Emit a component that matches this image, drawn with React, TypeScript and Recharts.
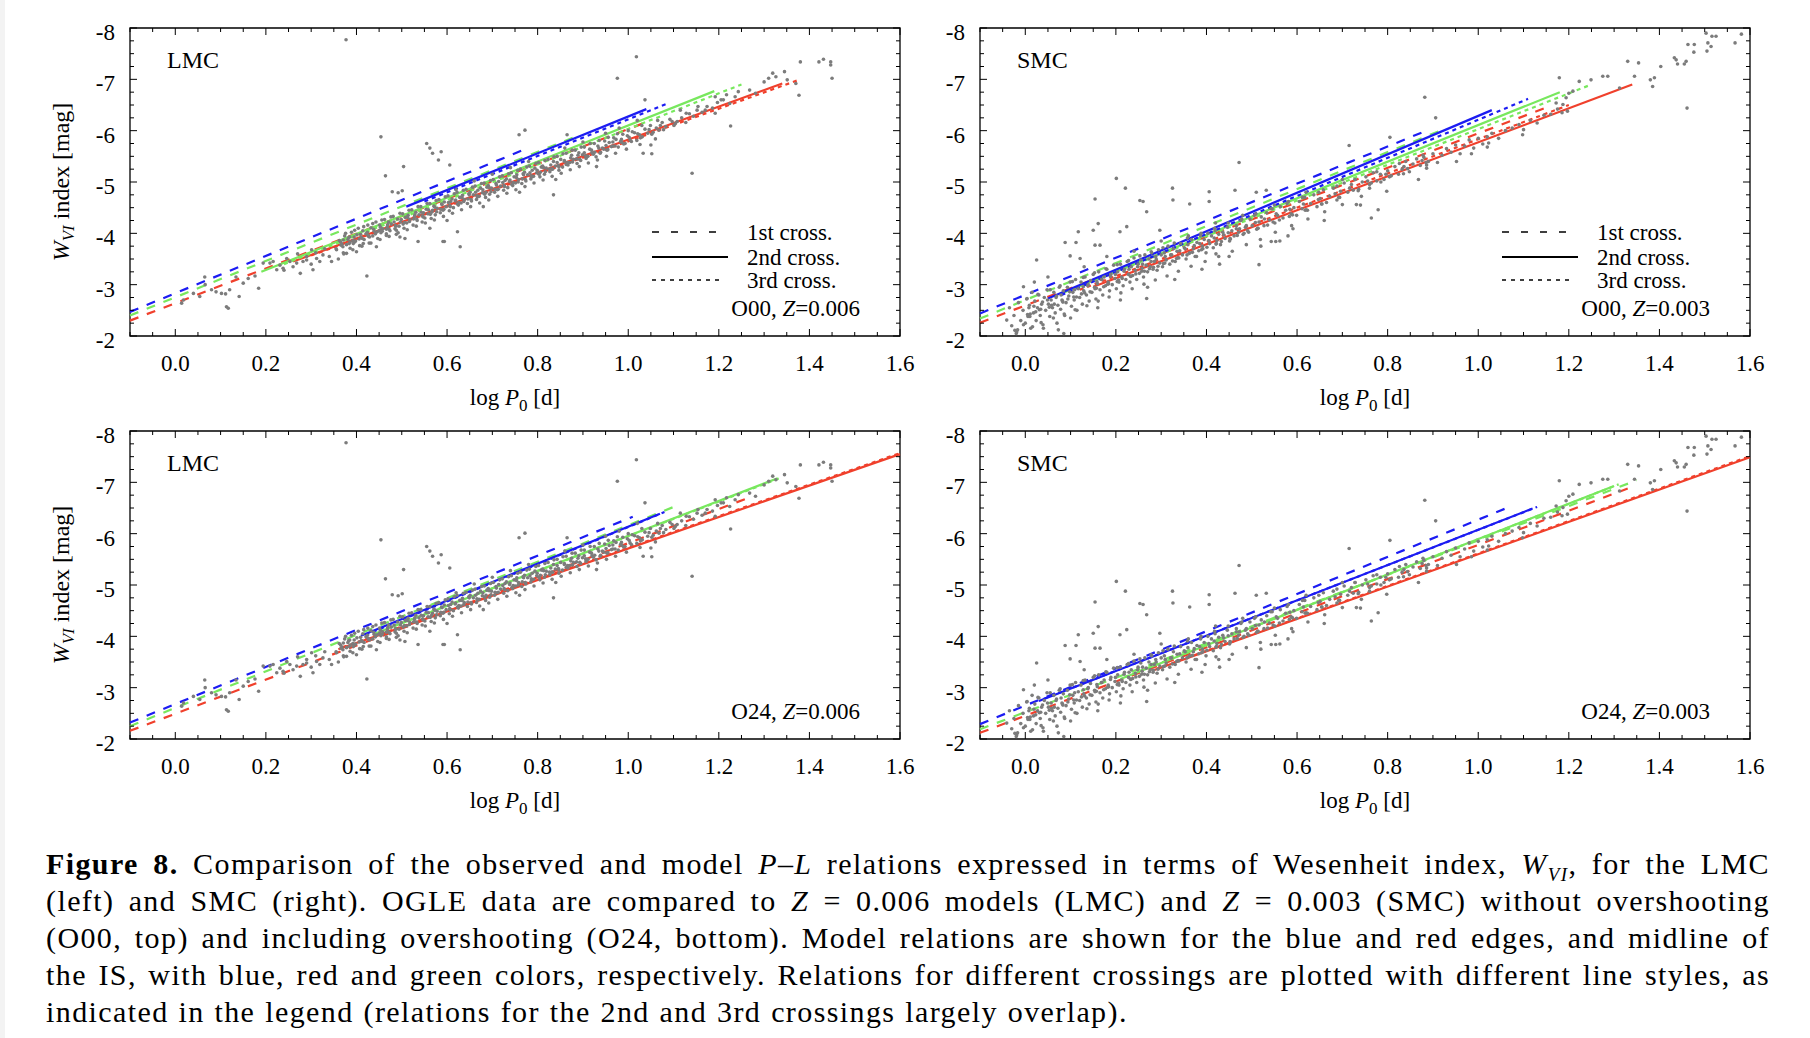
import React from 'react';
import { ScatterChart, Scatter, XAxis, YAxis, ReferenceLine, ReferenceArea } from 'recharts';

type Star = [number, number]; // [log P0, W_VI]
type Seg = [number, number, number, number]; // [logP start, W start, logP end, W end]

// OGLE fundamental-mode Cepheids, LMC
const lmcStars: Star[] = [
  [0.014, -2.64], [0.018, -2.70], [0.040, -2.83], [0.054, -2.77], [0.065, -3.15], [0.066, -3.00], [0.080, -2.90],
  [0.090, -2.86], [0.102, -2.83], [0.113, -2.57], [0.117, -2.54], [0.111, -2.82], [0.120, -2.90], [0.134, -3.15],
  [0.141, -2.77], [0.150, -3.03], [0.161, -3.12], [0.176, -3.17], [0.184, -2.93], [0.194, -3.42], [0.209, -3.42],
  [0.216, -3.45], [0.224, -3.29], [0.231, -3.38], [0.238, -3.32], [0.246, -3.51], [0.253, -3.45], [0.260, -3.35],
  [0.268, -3.42], [0.276, -3.22], [0.282, -3.45], [0.290, -3.55], [0.301, -3.68], [0.304, -3.29], [0.312, -3.51],
  [0.319, -3.45], [0.326, -3.58], [0.345, -3.45], [0.356, -3.68], [0.371, -3.87], [0.378, -3.61], [0.385, -3.93],
  [0.393, -3.80], [0.400, -3.64], [0.415, -3.80], [0.429, -3.93], [0.423, -3.17], [0.444, -3.74], [0.451, -4.06],
  [0.466, -3.99], [0.488, -4.06], [0.496, -3.93], [0.507, -3.90], [0.536, -3.84], [0.562, -4.10], [0.591, -3.84],
  [0.240, -3.28], [0.270, -3.60], [0.300, -3.40], [0.330, -3.70], [0.340, -3.55], [0.310, -3.62], [0.290, -3.48],
  [0.360, -3.50],
  [0.355, -3.70], [0.362, -3.86], [0.368, -3.79], [0.371, -3.62], [0.374, -3.95], [0.378, -3.78], [0.383, -3.92],
  [0.386, -3.71], [0.389, -4.02], [0.392, -3.86], [0.396, -3.83], [0.401, -3.97], [0.404, -4.10], [0.407, -3.76],
  [0.411, -3.92], [0.414, -4.05], [0.417, -3.88], [0.421, -3.99], [0.425, -4.16], [0.428, -3.81], [0.432, -4.11],
  [0.436, -3.95], [0.439, -4.04], [0.443, -4.22], [0.447, -3.90], [0.451, -4.16], [0.454, -4.01], [0.458, -4.09],
  [0.462, -4.27], [0.466, -3.96], [0.468, -4.13], [0.471, -4.22], [0.474, -4.05], [0.477, -4.18], [0.481, -4.33],
  [0.485, -4.09], [0.488, -3.98], [0.491, -4.28], [0.494, -4.14], [0.497, -4.22], [0.502, -4.38], [0.505, -4.10],
  [0.508, -4.31], [0.511, -4.20], [0.514, -4.35], [0.518, -4.27], [0.522, -4.46], [0.525, -4.16], [0.528, -4.33],
  [0.531, -4.41], [0.534, -4.25], [0.538, -4.36], [0.542, -4.52], [0.545, -4.22], [0.548, -4.40], [0.551, -4.30],
  [0.554, -4.47], [0.558, -4.38], [0.562, -4.58], [0.565, -4.29], [0.568, -4.45], [0.571, -4.53], [0.574, -4.36],
  [0.578, -4.49], [0.582, -4.66], [0.585, -4.40], [0.588, -4.57], [0.591, -4.45], [0.594, -4.61], [0.598, -4.52],
  [0.602, -4.73], [0.605, -4.44], [0.608, -4.62], [0.611, -4.67], [0.614, -4.50], [0.618, -4.63], [0.622, -4.80],
  [0.625, -4.55], [0.628, -4.70], [0.631, -4.59], [0.634, -4.74], [0.638, -4.66], [0.642, -4.86], [0.645, -4.58],
  [0.648, -4.77], [0.651, -4.80], [0.654, -4.63], [0.658, -4.75], [0.662, -4.92], [0.665, -4.66], [0.668, -4.84],
  [0.671, -4.72], [0.674, -4.88], [0.678, -4.79], [0.682, -4.98], [0.685, -4.70], [0.688, -4.90], [0.691, -4.93],
  [0.694, -4.76], [0.698, -4.88], [0.702, -5.05], [0.705, -4.80], [0.708, -4.97], [0.711, -4.85], [0.714, -5.01],
  [0.718, -4.92], [0.722, -5.12], [0.725, -4.84], [0.728, -5.03], [0.731, -5.06], [0.734, -4.89], [0.738, -5.01],
  [0.742, -5.18], [0.745, -4.93], [0.748, -5.10], [0.751, -4.98], [0.754, -5.14], [0.758, -5.05], [0.762, -5.25],
  [0.765, -4.97], [0.768, -5.16], [0.771, -5.19], [0.774, -5.02], [0.778, -5.14], [0.782, -5.31], [0.785, -5.06],
  [0.788, -5.23], [0.791, -5.11], [0.794, -5.27], [0.798, -5.18], [0.802, -5.38], [0.805, -5.10], [0.808, -5.29],
  [0.811, -5.31], [0.815, -5.15], [0.819, -5.27], [0.823, -5.44], [0.827, -5.20], [0.831, -5.25], [0.835, -5.40],
  [0.839, -5.31], [0.843, -5.50], [0.847, -5.23], [0.851, -5.44], [0.855, -5.29], [0.859, -5.40], [0.863, -5.56],
  [0.867, -5.33], [0.871, -5.38], [0.875, -5.52], [0.879, -5.44], [0.883, -5.62], [0.887, -5.36], [0.891, -5.57],
  [0.895, -5.42], [0.899, -5.53], [0.903, -5.68], [0.907, -5.46], [0.911, -5.50], [0.915, -5.64], [0.920, -5.57],
  [0.925, -5.75], [0.929, -5.49], [0.933, -5.70], [0.938, -5.56], [0.943, -5.66], [0.948, -5.80], [0.953, -5.62],
  [0.958, -5.77], [0.963, -5.69], [0.968, -5.86], [0.973, -5.83], [0.978, -5.68], [0.983, -5.79], [0.988, -5.93],
  [0.993, -5.75], [0.998, -5.90], [1.004, -5.82], [1.009, -5.98], [1.014, -5.96], [1.019, -5.81], [1.025, -5.92],
  [1.031, -5.88], [1.037, -6.03], [1.043, -5.95], [1.049, -6.10], [1.055, -5.97], [1.062, -6.05], [1.068, -6.01],
  [1.075, -6.16], [1.083, -6.08], [1.092, -6.22], [1.101, -6.10], [1.108, -6.18], [1.118, -6.25], [1.127, -6.16],
  [1.135, -6.33], [1.144, -6.28], [1.152, -6.40], [1.163, -6.36], [1.174, -6.47], [1.186, -6.44], [1.197, -6.55],
  [1.210, -6.60], [1.224, -6.53], [1.236, -6.66],
  [0.365, -3.83], [0.370, -3.74], [0.381, -3.88], [0.384, -3.80], [0.395, -3.93], [0.398, -3.85], [0.409, -3.98],
  [0.413, -3.90], [0.424, -4.02], [0.427, -3.94], [0.438, -4.08], [0.442, -3.99], [0.453, -4.12], [0.457, -4.04],
  [0.469, -4.17], [0.472, -4.08], [0.483, -4.22], [0.487, -4.14], [0.499, -4.27], [0.503, -4.18], [0.513, -4.31],
  [0.517, -4.23], [0.529, -4.36], [0.533, -4.28], [0.543, -4.41], [0.547, -4.32], [0.559, -4.46], [0.563, -4.37],
  [0.573, -4.51], [0.577, -4.42], [0.589, -4.56], [0.593, -4.47], [0.603, -4.60], [0.607, -4.52], [0.619, -4.65],
  [0.623, -4.57], [0.633, -4.70], [0.637, -4.62], [0.649, -4.75], [0.653, -4.66], [0.663, -4.80], [0.667, -4.71],
  [0.679, -4.85], [0.683, -4.76], [0.693, -4.89], [0.697, -4.81], [0.709, -4.94], [0.713, -4.86], [0.723, -4.99],
  [0.727, -4.91], [0.739, -5.04], [0.743, -4.95], [0.753, -5.09], [0.757, -5.00], [0.769, -5.14], [0.773, -5.05],
  [0.783, -5.18], [0.787, -5.10], [0.799, -5.23], [0.803, -5.15], [0.813, -5.28], [0.817, -5.20], [0.829, -5.33],
  [0.833, -5.25], [0.843, -5.38], [0.847, -5.29], [0.859, -5.42], [0.863, -5.34], [0.873, -5.47], [0.877, -5.39],
  [0.889, -5.52], [0.893, -5.44], [0.903, -5.57], [0.907, -5.49], [0.919, -5.62], [0.923, -5.54], [0.935, -5.66],
  [0.939, -5.58], [0.951, -5.71], [0.955, -5.63], [0.966, -5.78], [0.971, -5.70], [0.985, -5.83], [0.990, -5.74],
  [1.002, -5.87], [1.007, -5.79], [1.021, -5.94], [1.027, -5.86], [1.046, -6.02], [1.052, -5.93], [1.071, -6.10],
  [1.078, -6.02], [1.097, -6.18], [1.104, -6.14],
  [0.372, -3.60], [0.376, -4.00], [0.392, -3.68], [0.396, -4.06], [0.412, -3.75], [0.416, -4.13], [0.432, -3.81],
  [0.436, -4.19], [0.452, -3.88], [0.456, -4.26], [0.472, -3.94], [0.476, -4.32], [0.492, -4.01], [0.496, -4.39],
  [0.512, -4.07], [0.516, -4.45], [0.532, -4.14], [0.536, -4.52], [0.552, -4.20], [0.556, -4.58], [0.572, -4.26],
  [0.576, -4.64], [0.592, -4.33], [0.596, -4.71], [0.612, -4.39], [0.616, -4.77], [0.632, -4.46], [0.636, -4.84],
  [0.652, -4.52], [0.656, -4.90], [0.672, -4.59], [0.676, -4.97], [0.692, -4.65], [0.696, -5.03], [0.712, -4.72],
  [0.716, -5.10], [0.732, -4.78], [0.736, -5.16], [0.752, -4.85], [0.756, -5.23], [0.772, -4.91], [0.776, -5.29],
  [0.792, -4.98], [0.796, -5.36], [0.812, -5.04], [0.816, -5.42], [0.832, -5.11], [0.836, -5.49], [0.852, -5.17],
  [0.856, -5.55], [0.872, -5.24], [0.876, -5.62], [0.892, -5.30], [0.896, -5.68], [0.912, -5.37], [0.916, -5.75],
  [0.932, -5.43], [0.936, -5.81], [0.952, -5.50], [0.956, -5.87], [0.972, -5.56], [0.976, -5.94], [0.996, -5.64],
  [1.000, -6.00], [1.026, -5.73], [1.030, -6.10], [1.060, -5.84], [1.065, -6.20],
  [0.366, -3.77], [0.386, -3.83], [0.406, -3.89], [0.426, -3.96], [0.446, -4.03], [0.466, -4.08], [0.486, -4.15],
  [0.506, -4.21], [0.526, -4.28], [0.546, -4.34], [0.566, -4.41], [0.586, -4.47], [0.606, -4.54], [0.626, -4.60],
  [0.646, -4.67], [0.666, -4.73], [0.686, -4.80], [0.706, -4.86], [0.726, -4.93], [0.746, -4.99], [0.766, -5.06],
  [0.786, -5.12], [0.806, -5.19], [0.826, -5.25], [0.846, -5.32], [0.866, -5.38], [0.886, -5.45], [0.906, -5.51],
  [0.926, -5.58], [0.946, -5.64], [0.966, -5.70], [0.986, -5.77],
  [0.620, -4.85], [0.700, -5.15], [0.780, -5.40], [0.860, -5.66], [0.950, -5.95], [1.020, -6.20], [0.660, -5.02],
  [0.740, -5.28], [0.900, -5.78], [0.980, -6.05], [0.600, -4.25], [0.680, -4.52], [0.760, -4.80], [0.840, -5.05],
  [0.930, -5.30], [1.050, -5.72],
  [0.377, -7.77], [1.018, -7.44], [0.976, -7.02], [1.037, -6.60], [0.772, -6.01], [0.865, -5.92], [0.454, -5.88],
  [0.759, -5.92], [0.555, -5.75], [0.562, -5.66], [0.568, -5.56], [0.587, -5.59], [0.581, -5.43], [0.504, -5.30],
  [0.464, -5.12], [0.606, -5.33], [0.479, -4.81], [0.492, -4.79], [0.501, -4.83], [1.033, -5.56], [1.052, -5.55],
  [1.141, -5.17], [1.226, -6.09], [0.835, -4.75], [0.623, -4.03], [0.594, -3.84], [0.629, -3.74], [1.268, -6.79],
  [1.281, -6.73], [1.319, -7.12], [1.326, -7.05], [1.345, -7.15], [1.351, -6.99], [1.370, -6.92], [1.377, -6.69],
  [1.380, -7.34], [1.421, -7.34], [1.431, -7.39], [1.447, -7.28], [1.447, -7.34], [1.450, -7.02], [1.310, -7.02],
  [1.300, -6.95], [1.192, -6.66], [1.205, -6.60], [1.217, -6.70], [1.243, -6.76], [1.115, -6.40], [1.128, -6.34],
  [1.154, -6.47], [1.192, -6.34], [1.170, -6.40],
];

// OGLE fundamental-mode Cepheids, SMC
const smcStars: Star[] = [
  [-0.035, -2.55], [-0.030, -2.20], [-0.025, -2.40], [-0.020, -2.05], [-0.015, -2.65], [-0.010, -2.30],
  [-0.005, -2.50], [0.000, -2.25], [0.003, -2.72], [0.006, -2.38], [0.009, -2.60], [0.012, -2.15], [0.015, -2.85],
  [0.018, -2.45], [0.021, -2.68], [0.024, -2.30], [0.027, -2.55], [0.030, -2.80], [0.033, -2.40], [0.036, -2.62],
  [0.039, -2.22], [0.042, -2.75], [0.045, -2.50], [0.048, -2.90], [0.051, -2.62], [0.054, -2.38], [0.057, -2.70],
  [0.060, -2.55], [0.063, -2.85], [0.066, -2.45], [0.069, -2.78], [0.072, -2.60], [0.075, -2.95], [0.078, -2.52],
  [0.081, -2.70], [0.084, -2.88], [0.087, -2.40], [0.090, -2.65], [0.093, -2.95], [0.096, -2.78], [0.099, -3.05],
  [0.102, -2.58], [0.105, -2.85], [0.108, -2.70], [0.111, -3.10], [0.114, -2.50], [0.117, -2.92], [0.120, -2.75],
  [0.123, -3.05], [0.126, -2.62], [0.129, -2.88], [0.132, -3.15], [0.135, -2.80], [0.138, -2.98], [0.141, -2.68],
  [0.144, -3.08], [0.147, -2.85], [0.150, -3.20], [0.153, -2.95], [0.156, -2.72], [0.159, -3.02], [0.162, -3.25],
  [0.165, -2.90], [0.168, -3.10], [0.171, -2.80], [0.174, -3.15], [0.177, -2.98], [0.180, -3.30], [0.183, -3.05],
  [0.186, -2.88], [0.189, -3.20], [0.192, -3.00], [0.195, -3.38], [0.198, -3.12], [0.201, -2.92], [0.204, -3.25],
  [0.207, -3.05], [0.210, -3.40], [0.213, -3.15], [0.216, -2.98], [0.219, -3.30], [0.222, -3.10], [0.225, -3.45],
  [0.228, -3.20], [0.231, -3.05], [0.234, -3.35], [0.237, -3.18], [0.240, -3.52], [0.243, -3.28], [0.246, -3.10],
  [0.249, -3.40], [0.252, -3.22], [0.255, -3.48], [0.258, -3.32], [0.261, -3.15], [0.264, -3.58], [0.267, -3.38],
  [0.270, -3.25], [0.273, -3.50], [0.276, -3.35], [0.279, -3.62], [0.282, -3.30], [0.285, -3.45], [0.288, -3.55],
  [0.291, -3.28], [0.294, -3.68], [0.297, -3.42], [0.300, -3.58], [0.303, -3.35], [0.307, -3.62], [0.311, -3.48],
  [0.315, -3.75], [0.319, -3.40], [0.323, -3.58], [0.327, -3.70], [0.331, -3.45], [0.335, -3.65], [0.339, -3.52],
  [0.343, -3.80], [0.347, -3.58], [0.351, -3.72], [0.355, -3.50], [0.359, -3.78], [0.363, -3.62], [0.367, -3.88],
  [0.371, -3.70], [0.375, -3.55], [0.379, -3.82], [0.383, -3.66], [0.387, -3.95], [0.391, -3.75], [0.395, -3.88],
  [0.399, -3.62], [0.403, -4.00], [0.407, -3.80], [0.411, -3.95], [0.415, -3.72], [0.419, -4.05], [0.423, -3.86],
  [0.427, -3.98], [0.431, -3.78], [0.436, -4.02], [0.441, -3.90], [0.446, -4.12], [0.451, -3.85], [0.456, -4.05],
  [0.461, -3.95], [0.466, -4.15], [0.471, -4.02], [0.476, -4.25], [0.481, -3.98], [0.486, -4.12], [0.491, -4.05],
  [0.496, -4.28], [0.501, -4.15], [0.506, -4.35], [0.511, -4.08], [0.516, -4.22], [0.521, -4.32], [0.527, -4.15],
  [0.533, -4.40], [0.539, -4.26], [0.545, -4.48], [0.551, -4.20], [0.557, -4.35], [0.563, -4.52], [0.569, -4.30],
  [0.575, -4.45], [0.581, -4.62], [0.587, -4.38], [0.593, -4.50], [0.599, -4.35], [0.605, -4.62], [0.611, -4.48],
  [0.617, -4.70], [0.623, -4.45], [0.630, -4.58], [0.637, -4.75], [0.644, -4.52], [0.651, -4.68], [0.658, -4.85],
  [0.665, -4.60], [0.672, -4.72], [0.680, -4.88], [0.688, -4.65], [0.696, -4.82], [0.704, -4.98], [0.712, -4.80],
  [0.720, -4.95], [0.728, -5.05], [0.736, -4.86], [0.744, -5.00], [0.752, -5.10], [0.760, -4.95], [0.768, -5.18],
  [0.776, -5.02], [0.784, -5.15], [0.792, -5.05], [0.800, -5.22], [0.808, -5.12], [0.816, -5.30], [0.824, -5.15],
  [0.832, -5.25], [0.840, -5.40], [0.848, -5.20], [0.856, -5.35], [0.864, -5.45], [0.872, -5.32], [0.880, -5.48],
  [0.890, -5.40], [0.900, -5.55], [0.910, -5.38], [0.920, -5.52], [0.930, -5.65], [0.940, -5.58], [0.950, -5.72],
  [0.960, -5.55], [0.970, -5.70], [0.980, -5.82], [0.990, -5.66], [1.000, -5.85], [1.010, -5.74], [1.020, -5.88],
  [1.030, -5.95], [1.045, -5.85], [1.060, -6.00], [1.075, -6.05], [1.090, -6.12], [1.100, -6.02], [1.115, -6.20],
  [1.130, -6.15], [1.145, -6.30], [1.160, -6.32], [1.175, -6.42], [1.185, -6.35],
  [0.005, -2.42], [0.008, -2.55], [0.019, -2.58], [0.023, -2.47], [0.034, -2.52], [0.038, -2.66], [0.049, -2.70],
  [0.053, -2.56], [0.064, -2.62], [0.068, -2.75], [0.079, -2.80], [0.083, -2.66], [0.094, -2.72], [0.098, -2.86],
  [0.109, -2.90], [0.113, -2.76], [0.124, -2.82], [0.128, -2.96], [0.139, -3.00], [0.143, -2.86], [0.154, -2.92],
  [0.158, -3.06], [0.169, -3.10], [0.173, -2.96], [0.184, -3.02], [0.188, -3.16], [0.199, -3.20], [0.203, -3.06],
  [0.214, -3.12], [0.218, -3.26], [0.229, -3.30], [0.233, -3.16], [0.244, -3.21], [0.248, -3.35], [0.259, -3.40],
  [0.263, -3.26], [0.274, -3.31], [0.278, -3.45], [0.289, -3.50], [0.293, -3.36], [0.305, -3.41], [0.309, -3.55],
  [0.321, -3.58], [0.325, -3.46], [0.337, -3.53], [0.341, -3.66], [0.353, -3.70], [0.357, -3.58], [0.369, -3.63],
  [0.373, -3.76], [0.385, -3.80], [0.389, -3.68], [0.401, -3.73], [0.405, -3.86], [0.417, -3.91], [0.421, -3.79],
  [0.433, -3.84], [0.438, -3.97], [0.448, -4.01], [0.453, -3.89], [0.468, -3.96], [0.473, -4.09], [0.488, -4.15],
  [0.493, -4.02], [0.508, -4.21], [0.513, -4.10], [0.528, -4.28], [0.535, -4.16], [0.554, -4.38], [0.561, -4.26],
  [0.584, -4.47], [0.590, -4.36], [0.614, -4.57], [0.620, -4.46], [0.647, -4.66], [0.654, -4.57], [0.684, -4.77],
  [0.692, -4.70], [0.716, -4.88], [0.724, -4.84], [0.756, -5.02], [0.764, -4.98], [0.796, -5.15], [0.804, -5.10],
  [0.836, -5.30], [0.844, -5.26], [0.876, -5.42], [0.885, -5.38],
  [0.004, -2.73], [0.011, -2.43], [0.016, -2.18], [0.028, -2.81], [0.031, -2.51], [0.035, -2.26], [0.055, -2.90],
  [0.058, -2.60], [0.062, -2.35], [0.077, -2.98], [0.082, -2.68], [0.086, -2.43], [0.104, -3.06], [0.107, -2.76],
  [0.110, -2.51], [0.128, -3.14], [0.131, -2.84], [0.136, -2.59], [0.153, -3.23], [0.157, -2.93], [0.161, -2.68],
  [0.178, -3.31], [0.182, -3.01], [0.185, -2.76], [0.203, -3.39], [0.206, -3.09], [0.211, -2.84], [0.228, -3.47],
  [0.232, -3.17], [0.236, -2.92], [0.253, -3.56], [0.257, -3.26], [0.262, -3.01], [0.278, -3.64], [0.283, -3.34],
  [0.287, -3.09], [0.304, -3.72], [0.308, -3.42], [0.313, -3.17], [0.329, -3.81], [0.334, -3.51], [0.338, -3.26],
  [0.358, -3.91], [0.362, -3.61], [0.366, -3.36], [0.388, -4.00], [0.392, -3.70], [0.397, -3.45], [0.418, -4.10],
  [0.422, -3.80], [0.427, -3.55], [0.448, -4.20], [0.452, -3.90], [0.457, -3.65], [0.478, -4.28], [0.483, -4.00],
  [0.488, -3.78], [0.509, -4.38], [0.514, -4.10], [0.519, -3.88], [0.542, -4.48], [0.547, -4.22], [0.552, -4.02],
  [0.578, -4.58], [0.583, -4.33], [0.588, -4.15], [0.612, -4.70], [0.618, -4.45], [0.624, -4.28], [0.648, -4.80],
  [0.655, -4.57], [0.661, -4.42], [0.688, -4.92], [0.694, -4.70], [0.700, -4.56], [0.728, -5.05], [0.735, -4.83],
  [0.742, -4.72], [0.776, -5.20], [0.785, -5.00], [0.826, -5.36], [0.835, -5.16], [0.878, -5.52], [0.886, -5.33],
  [0.020, -3.05], [0.050, -3.15], [0.070, -2.25], [0.100, -2.35], [0.130, -3.35], [0.160, -2.55], [0.180, -3.55],
  [0.210, -2.70], [0.240, -3.65], [0.270, -2.95], [0.300, -3.85], [0.330, -3.10], [0.360, -3.95], [0.390, -3.30],
  [0.420, -4.20], [0.450, -3.55], [0.480, -4.35], [0.520, -3.75], [0.550, -4.55], [0.580, -3.95], [0.620, -4.80],
  [0.660, -4.25], [0.700, -5.05], [0.740, -4.55],
  [1.194, -6.64], [1.200, -6.73], [1.209, -6.77], [1.187, -6.51], [1.172, -6.54], [1.197, -6.38], [1.179, -7.03],
  [1.223, -6.96], [1.249, -6.99], [1.275, -7.06], [1.286, -7.06], [1.312, -6.83], [1.345, -7.06], [1.330, -7.35],
  [1.354, -7.32], [1.380, -6.99], [1.389, -7.03], [1.385, -6.86], [1.403, -7.25], [1.433, -7.42], [1.437, -7.38],
  [1.440, -7.30], [1.455, -7.30], [1.459, -7.35], [1.461, -6.44], [1.463, -7.68], [1.477, -7.68], [1.476, -7.53],
  [1.503, -7.90], [1.516, -7.84], [1.525, -7.84], [1.507, -7.71], [1.514, -7.64], [1.505, -7.55], [1.567, -7.71],
  [1.581, -7.88],
  [0.882, -6.65], [0.906, -6.25], [0.805, -5.87], [0.715, -5.71], [1.098, -5.92], [1.020, -5.68], [1.023, -5.76],
  [0.985, -5.55], [0.952, -5.40], [0.886, -5.27], [0.868, -5.05], [0.798, -4.82], [0.779, -4.46], [0.764, -4.30],
  [0.731, -4.56], [0.760, -4.88],
  [0.201, -5.07], [0.221, -4.88], [0.154, -4.67], [0.325, -4.88], [0.326, -4.65], [0.253, -4.64], [0.260, -4.62],
  [0.268, -4.42], [0.406, -4.81], [0.406, -4.62], [0.363, -4.57], [0.463, -4.84], [0.472, -5.38], [0.510, -4.80],
  [0.532, -4.84], [0.117, -4.03], [0.161, -4.19], [0.150, -4.06], [0.209, -4.03], [0.088, -3.82], [0.112, -3.82],
  [0.154, -3.77], [0.165, -3.77], [0.099, -3.56], [0.121, -3.51], [0.025, -3.48], [0.224, -4.13], [0.297, -4.06],
  [0.378, -3.55], [0.421, -3.60], [0.516, -3.39], [0.543, -3.84], [0.553, -3.84], [0.562, -3.85], [0.466, -4.09],
  [0.591, -4.09], [-0.023, -2.11], [-0.019, -2.08], [0.073, -2.12], [0.040, -2.15], [-0.004, -2.22], [0.010, -2.38],
  [-0.041, -2.31], [0.268, -2.73], [0.429, -3.40], [-0.004, -2.96], [-0.017, -2.12], [0.085, -2.05],
];

// Model relations: blue edge, IS midline and red edge; rows are 1st, 2nd, 3rd crossing
const lmcO00Blue: Seg[] = [[-0.1, -2.47, 0.77, -5.63], [0.51, -4.52, 1.04, -6.42], [0.55, -4.62, 1.09, -6.54]];
const lmcO00Green: Seg[] = [[-0.1, -2.40, 0.88, -5.87], [0.19, -3.25, 1.19, -6.77], [0.24, -3.40, 1.25, -6.90]];
const lmcO00Red: Seg[] = [[-0.1, -2.30, 1.05, -6.20], [0.26, -3.45, 1.34, -6.92], [0.30, -3.57, 1.38, -7.00]];

const smcO00Blue: Seg[] = [[-0.1, -2.44, 0.88, -5.98], [0.05, -2.73, 1.03, -6.40], [0.08, -2.80, 1.11, -6.62]];
const smcO00Green: Seg[] = [[-0.1, -2.34, 0.93, -6.05], [0.08, -2.83, 1.18, -6.75], [0.10, -2.90, 1.25, -6.90]];
const smcO00Red: Seg[] = [[-0.1, -2.26, 1.15, -6.45], [0.15, -2.96, 1.34, -6.90], [0.12, -2.90, 1.20, -6.50]];

const lmcO24Blue: Seg[] = [[-0.1, -2.32, 1.01, -6.33], [0.41, -4.01, 1.07, -6.39], [0.42, -4.03, 1.08, -6.42]];
const lmcO24Green: Seg[] = [[-0.1, -2.25, 1.10, -6.52], [0.44, -4.05, 1.33, -7.08], [0.45, -4.09, 1.34, -7.10]];
const lmcO24Red: Seg[] = [[-0.1, -2.16, 1.26, -6.68], [0.36, -3.75, 1.6, -7.55], [0.37, -3.79, 1.6, -7.57]];

const smcO24Blue: Seg[] = [[-0.1, -2.29, 1.06, -6.49], [0.03, -2.74, 1.12, -6.49], [0.04, -2.78, 1.13, -6.52]];
const smcO24Green: Seg[] = [[-0.1, -2.19, 1.35, -7.04], [0.21, -3.17, 1.30, -6.93], [0.22, -3.21, 1.31, -6.96]];
const smcO24Red: Seg[] = [[-0.1, -2.12, 1.33, -6.88], [0.28, -3.33, 1.6, -7.49], [0.29, -3.37, 1.6, -7.51]];

const xMajorTicks = [0, 0.2, 0.4, 0.6, 0.8, 1.0, 1.2, 1.4, 1.6];
const yMajorTicks = [-8, -7, -6, -5, -4, -3, -2];
const crossingLabels = ['1st cross.', '2nd cross.', '3rd cross.'];

const SERIF = '"Liberation Serif", "Times New Roman", serif';
const BLUE = '#1c1cf2';
const GREEN = '#78e85e';
const RED = '#f0402c';
const DOT = '#7c7c7c';
const crossingDash = ['9 9', undefined, '4 4'];
const legendDash = ['7 12', undefined, '4 5'];

// minor ticks every 0.05 in log P and 0.25 mag in W
const xTicks: number[] = [];
for (let k = -2; k <= 32; k++) xTicks.push(Number((k * 0.05).toFixed(2)));
const yTicks: number[] = [];
for (let k = -32; k <= -8; k++) yTicks.push(k / 4);

const PLOT_W = 770;
const PLOT_H = 308;
const TOP = 28;
const XAXIS_H = 80;
const RIGHT_PAD = 24;
const FS = 23;

const isMajorX = (v: number) => xMajorTicks.some((m) => Math.abs(m - v) < 1e-6);
const isMajorY = (v: number) => yMajorTicks.some((m) => Math.abs(m - v) < 1e-6);

const dot = (props: any) => <circle cx={props.cx} cy={props.cy} r={1.8} fill={DOT} />;

interface PanelProps {
  left: number;
  top: number;
  axisW: number;
  stars: Star[];
  blue: Seg[];
  green: Seg[];
  red: Seg[];
  cloud: string;
  model: string;
  z: string;
  legend?: boolean;
  yTitle?: boolean;
}

function Panel(p: PanelProps) {
  const width = p.axisW + PLOT_W + RIGHT_PAD;
  const height = TOP + PLOT_H + XAXIS_H;
  const bottom = TOP + PLOT_H;
  const right = p.axisW + PLOT_W;
  const pts = p.stars.map(([x, y]) => ({ x, y }));

  const xTick = (t: any) => {
    const v = t.payload.value as number;
    const major = isMajorX(v);
    const len = major ? 7 : 4;
    return (
      <g>
        <line x1={t.x} x2={t.x} y1={bottom} y2={bottom - len} stroke="#000" strokeWidth={1} />
        <line x1={t.x} x2={t.x} y1={TOP} y2={TOP + len} stroke="#000" strokeWidth={1} />
        {major && (
          <text x={t.x} y={bottom + 35} textAnchor="middle" fontFamily={SERIF} fontSize={FS} fill="#000">
            {v.toFixed(1)}
          </text>
        )}
      </g>
    );
  };

  const yTick = (t: any) => {
    const v = t.payload.value as number;
    const major = isMajorY(v);
    const len = major ? 7 : 4;
    return (
      <g>
        <line x1={p.axisW} x2={p.axisW + len} y1={t.y} y2={t.y} stroke="#000" strokeWidth={1} />
        <line x1={right} x2={right - len} y1={t.y} y2={t.y} stroke="#000" strokeWidth={1} />
        {major && (
          <text x={p.axisW - 15} y={t.y + 12} textAnchor="end" fontFamily={SERIF} fontSize={FS} fill="#000">
            {String(v)}
          </text>
        )}
      </g>
    );
  };

  const lines: React.ReactNode[] = [];
  ([[p.red, RED], [p.green, GREEN], [p.blue, BLUE]] as [Seg[], string][]).forEach(([segs, color]) => {
    segs.forEach((s, i) => {
      lines.push(
        <ReferenceLine
          key={color + i}
          segment={[{ x: s[0], y: s[1] }, { x: s[2], y: s[3] }]}
          stroke={color}
          strokeWidth={2.2}
          strokeDasharray={crossingDash[i]}
          ifOverflow="visible"
        />
      );
    });
  });

  const text: React.CSSProperties = {
    position: 'absolute',
    fontFamily: SERIF,
    fontSize: FS,
    lineHeight: 1,
    whiteSpace: 'nowrap',
    color: '#000',
  };

  return (
    <div style={{ position: 'absolute', left: p.left, top: p.top, width, height }}>
      <ScatterChart width={width} height={height} margin={{ top: TOP, right: RIGHT_PAD, bottom: 0, left: 0 }}>
        <XAxis
          type="number"
          dataKey="x"
          domain={[-0.1, 1.6]}
          ticks={xTicks}
          interval={0}
          height={XAXIS_H}
          axisLine={false}
          tickLine={false}
          allowDataOverflow
          tick={xTick}
        />
        <YAxis
          type="number"
          dataKey="y"
          domain={[-8, -2]}
          reversed
          ticks={yTicks}
          interval={0}
          width={p.axisW}
          axisLine={false}
          tickLine={false}
          allowDataOverflow
          tick={yTick}
        />
        <Scatter data={pts} isAnimationActive={false} shape={dot} />
        {lines}
        <ReferenceArea x1={-0.1} x2={1.6} y1={-8} y2={-2} fill="none" fillOpacity={0} stroke="#000" strokeWidth={1.3} />
      </ScatterChart>

      <div style={{ ...text, left: p.axisW + 37, top: TOP + 32, fontSize: 24, transform: 'translateY(-50%)' }}>{p.cloud}</div>

      {p.legend &&
        crossingLabels.map((lab, i) => {
          const y = TOP + [204, 229, 252][i];
          return (
            <React.Fragment key={lab}>
              <svg style={{ position: 'absolute', left: p.axisW + 522, top: y - 3 }} width={76} height={6}>
                <line x1={0} x2={i === 1 ? 76 : 72} y1={3} y2={3} stroke="#000" strokeWidth={i === 1 ? 2.2 : 1.6} strokeDasharray={legendDash[i]} />
              </svg>
              <div style={{ ...text, left: p.axisW + 617, top: y, transform: 'translateY(-50%)' }}>{lab}</div>
            </React.Fragment>
          );
        })}

      <div style={{ ...text, right: width - (p.axisW + 730), top: TOP + 280, transform: 'translateY(-50%)' }}>
        {p.model}, <i>Z</i>={p.z}
      </div>

      <div style={{ ...text, left: p.axisW + PLOT_W / 2, top: bottom + 61, transform: 'translate(-50%, -50%)' }}>
        log <i>P</i>
        <span style={{ fontSize: 17, position: 'relative', top: 6 }}>0</span> [d]
      </div>

      {p.yTitle && (
        <div style={{ ...text, fontSize: 24, left: 61, top: TOP + PLOT_H / 2, transform: 'translate(-50%, -50%) rotate(-90deg)' }}>
          <i>W</i>
          <span style={{ fontSize: 17, position: 'relative', top: 5, fontStyle: 'italic' }}>VI</span> index [mag]
        </div>
      )}
    </div>
  );
}

const captionLine: React.CSSProperties = {
  height: 37,
  lineHeight: '37px',
  whiteSpace: 'nowrap',
  textAlign: 'justify',
  textAlignLast: 'justify',
};

export default function App() {
  return (
    <div style={{ position: 'absolute', left: 0, top: 0, width: 1810, height: 1038, background: '#fff', overflow: 'hidden' }}>
      <div style={{ position: 'absolute', left: 0, top: 0, width: 5, height: 1038, background: '#f3f3f3' }} />
      <Panel left={0} top={0} axisW={130} stars={lmcStars} blue={lmcO00Blue} green={lmcO00Green} red={lmcO00Red}
        cloud="LMC" model="O00" z="0.006" legend yTitle />
      <Panel left={900} top={0} axisW={80} stars={smcStars} blue={smcO00Blue} green={smcO00Green} red={smcO00Red}
        cloud="SMC" model="O00" z="0.003" legend />
      <Panel left={0} top={403} axisW={130} stars={lmcStars} blue={lmcO24Blue} green={lmcO24Green} red={lmcO24Red}
        cloud="LMC" model="O24" z="0.006" yTitle />
      <Panel left={900} top={403} axisW={80} stars={smcStars} blue={smcO24Blue} green={smcO24Green} red={smcO24Red}
        cloud="SMC" model="O24" z="0.003" />

      <div style={{ position: 'absolute', left: 46, top: 845, width: 1724, fontFamily: SERIF, fontSize: 30, color: '#000', letterSpacing: 1.4, wordSpacing: 1 }}>
        <div style={captionLine}>
          <b>Figure 8.</b> Comparison of the observed and model <i>P</i>–<i>L</i> relations expressed in terms of Wesenheit index,{' '}
          <i>W</i><sub style={{ fontSize: 19, fontStyle: 'italic', lineHeight: 0 }}>VI</sub>, for the LMC
        </div>
        <div style={captionLine}>
          (left) and SMC (right). OGLE data are compared to <i>Z</i> = 0.006 models (LMC) and <i>Z</i> = 0.003 (SMC) without overshooting
        </div>
        <div style={captionLine}>
          (O00, top) and including overshooting (O24, bottom). Model relations are shown for the blue and red edges, and midline of
        </div>
        <div style={captionLine}>
          the IS, with blue, red and green colors, respectively. Relations for different crossings are plotted with different line styles, as
        </div>
        <div style={{ ...captionLine, textAlign: 'left', textAlignLast: 'left' }}>
          indicated in the legend (relations for the 2nd and 3rd crossings largely overlap).
        </div>
      </div>
    </div>
  );
}
